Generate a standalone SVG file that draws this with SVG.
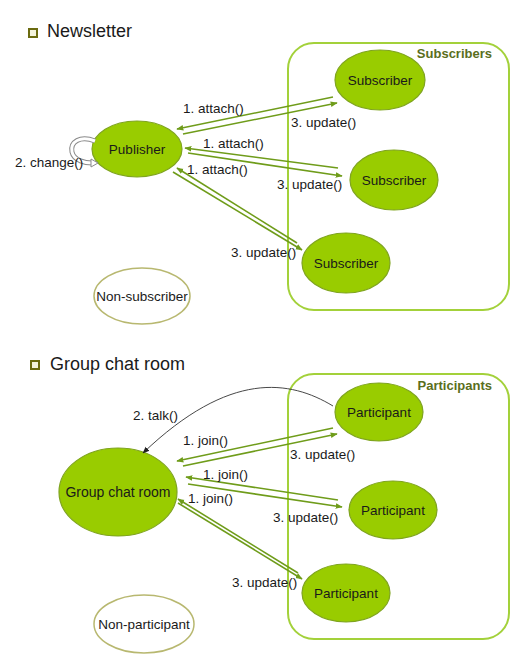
<svg xmlns="http://www.w3.org/2000/svg" width="526" height="658" viewBox="0 0 526 658">
<defs>
<marker id="ah" viewBox="0 0 10 10" refX="9" refY="5" markerWidth="7" markerHeight="7" orient="auto" markerUnits="userSpaceOnUse">
<path d="M0,1 L10,5 L0,9 z" fill="#6f9c1a"/>
</marker>
<marker id="ahk" viewBox="0 0 10 10" refX="9" refY="5" markerWidth="7" markerHeight="7" orient="auto" markerUnits="userSpaceOnUse">
<path d="M0,1 L10,5 L0,9 z" fill="#222"/>
</marker>
</defs>
<style>
text{font-family:"Liberation Sans",Arial,sans-serif;fill:#1a1a1a}
.title{font-size:18px}
.lbl{font-size:13.5px}
.nl{font-size:13.5px;text-anchor:middle}
.grp{font-size:13px;font-weight:bold;fill:#5a6e1c;text-anchor:end}
.node{fill:#99cc00;stroke:#7fa41f;stroke-width:1.2}
.plain{fill:#fff;stroke:#b8b870;stroke-width:1.5}
.box{fill:none;stroke:#a3d13a;stroke-width:2}
.con{stroke:#6f9c1a;stroke-width:1.6;fill:none;marker-end:url(#ah)}
.bullet{fill:#f4f4dc;stroke:#6b6b10;stroke-width:2}
</style>
<rect width="526" height="658" fill="#fff"/>

<g id="title-newsletter">
<rect class="bullet" x="29" y="29" width="8" height="8"/>
<text class="title" x="47" y="37">Newsletter</text>
</g>
<g id="subscribers-group">
<rect class="box" x="288" y="43" width="221" height="267" rx="26"/>
<text class="grp" x="492" y="58">Subscribers</text>
</g>
<g id="publisher">
<ellipse class="node" cx="137" cy="149" rx="45" ry="28"/>
<text class="nl" x="137" y="154">Publisher</text>
</g>
<g id="subscriber1">
<ellipse class="node" cx="380" cy="80" rx="45" ry="30"/>
<text class="nl" x="380" y="85">Subscriber</text>
</g>
<g id="subscriber2">
<ellipse class="node" cx="394" cy="180" rx="44" ry="30"/>
<text class="nl" x="394" y="185">Subscriber</text>
</g>
<g id="subscriber3">
<ellipse class="node" cx="346" cy="263" rx="44" ry="30"/>
<text class="nl" x="346" y="268">Subscriber</text>
</g>
<g id="non-subscriber">
<ellipse class="plain" cx="142" cy="296" rx="48" ry="28"/>
<text class="nl" x="142" y="301">Non-subscriber</text>
</g>

<g id="title-groupchat">
<rect class="bullet" x="31" y="361" width="8" height="8"/>
<text class="title" x="50" y="370">Group chat room</text>
</g>
<g id="participants-group">
<rect class="box" x="288" y="374" width="221" height="265" rx="26"/>
<text class="grp" x="492" y="390">Participants</text>
</g>
<g id="groupchatroom">
<ellipse class="node" cx="118" cy="492" rx="59" ry="44"/>
<text class="nl" x="118" y="497" style="font-size:14px">Group chat room</text>
</g>
<g id="participant1">
<ellipse class="node" cx="379" cy="412" rx="44" ry="29"/>
<text class="nl" x="379" y="417">Participant</text>
</g>
<g id="participant2">
<ellipse class="node" cx="393" cy="510" rx="44" ry="29"/>
<text class="nl" x="393" y="515">Participant</text>
</g>
<g id="participant3">
<ellipse class="node" cx="346" cy="593" rx="44" ry="29"/>
<text class="nl" x="346" y="598">Participant</text>
</g>
<g id="non-participant">
<ellipse class="plain" cx="144" cy="624" rx="50" ry="29"/>
<text class="nl" x="144" y="629">Non-participant</text>
</g>

<g id="connectors">
<line class="con" x1="333" y1="97" x2="177" y2="129"/>
<line class="con" x1="183" y1="134" x2="337" y2="103"/>
<line class="con" x1="338" y1="168" x2="185" y2="148"/>
<line class="con" x1="188" y1="153" x2="342" y2="176"/>
<line class="con" x1="297" y1="243" x2="177" y2="168"/>
<line class="con" x1="173" y1="172" x2="302" y2="250"/>
<path d="M95,141 C80,135 70,142 72,152 C74,161 86,163 92,163" fill="none" stroke="#8a8a8a" stroke-width="5"/>
<path d="M95,141 C80,135 70,142 72,152 C74,161 86,163 92,163" fill="none" stroke="#fff" stroke-width="3"/>
<path d="M91,159 L98,163 L91,167 z" fill="#fff" stroke="#8a8a8a" stroke-width="1"/>

<path d="M333,406 C290,380 230,370 143,453" fill="none" stroke="#333" stroke-width="0.9" marker-end="url(#ahk)"/>
<line class="con" x1="333" y1="428" x2="177" y2="461"/>
<line class="con" x1="183" y1="466" x2="337" y2="434"/>
<line class="con" x1="338" y1="500" x2="186" y2="477"/>
<line class="con" x1="188" y1="484" x2="342" y2="507"/>
<line class="con" x1="298" y1="573" x2="178" y2="499"/>
<line class="con" x1="178" y1="503" x2="302" y2="579"/>
</g>

<g id="labels">
<text class="lbl" x="183" y="113">1. attach()</text>
<text class="lbl" x="291" y="127">3. update()</text>
<text class="lbl" x="203" y="148">1. attach()</text>
<text class="lbl" x="277" y="189">3. update()</text>
<text class="lbl" x="187" y="174">1. attach()</text>
<text class="lbl" x="231" y="257">3. update()</text>
<text class="lbl" x="15" y="167">2. change()</text>
<text class="lbl" x="133" y="420">2. talk()</text>
<text class="lbl" x="183" y="445">1. join()</text>
<text class="lbl" x="290" y="459">3. update()</text>
<text class="lbl" x="203" y="479">1. join()</text>
<text class="lbl" x="273" y="522">3. update()</text>
<text class="lbl" x="188" y="503">1. join()</text>
<text class="lbl" x="232" y="587">3. update()</text>
</g>
</svg>
